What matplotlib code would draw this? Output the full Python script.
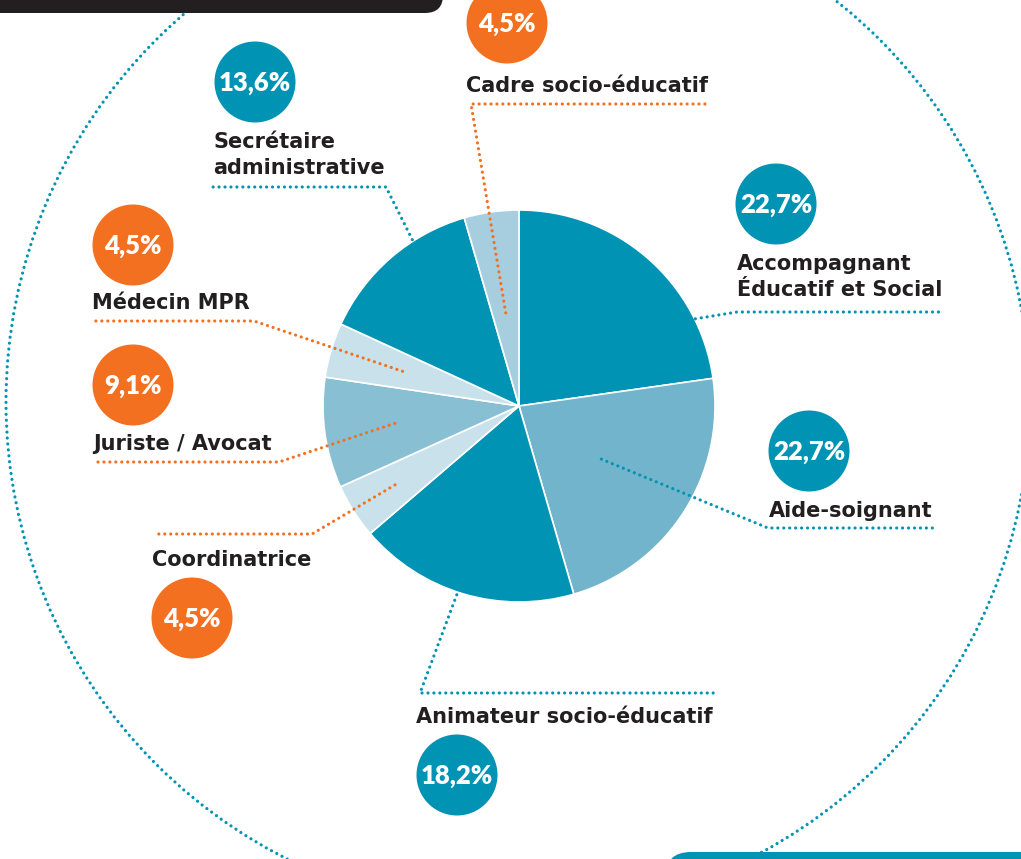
import numpy as np
import matplotlib
matplotlib.use("Agg")
import matplotlib.pyplot as plt
from matplotlib.patches import Circle, FancyBboxPatch

# ---- data ----
jobs = ["Accompagnant\nÉducatif et Social", "Aide-soignant", "Animateur socio-éducatif",
        "Coordinatrice", "Juriste / Avocat", "Médecin MPR",
        "Secrétaire\nadministrative", "Cadre socio-éducatif"]
shares = [22.7, 22.7, 18.2, 4.5, 9.1, 4.5, 13.6, 4.5]
share_labels = ["22,7%", "22,7%", "18,2%", "4,5%", "9,1%", "4,5%", "13,6%", "4,5%"]

# ---- styles / layout (pixels, y down) ----
TEAL = "#0093B4"
ORANGE = "#F37021"
DARK = "#231F20"
wedge_colors = [TEAL, "#72B4CC", TEAL, "#C8E1EB", "#88BFD3", "#C8E1EB", TEAL, "#A7CEDF"]
bubble_colors = [TEAL, TEAL, TEAL, ORANGE, ORANGE, ORANGE, TEAL, ORANGE]
bubble_xy = [(776, 204), (809, 451), (457, 775), (192, 618), (133, 385), (133, 245), (255, 82), (507, 23)]
text_xy = [(737, 270), (769, 517), (416, 723), (152, 566), (93, 450), (92, 309), (213, 148), (466, 92)]
elbow = [(737, 312), (768, 528), (420, 693), (312, 534), (279, 462), (254, 321), (386, 187), (471, 104)]
line_end = [943, 935, 718, 155, 93, 93, 213, 710]
anchor_frac = [0.46, 0.5, 0.59, 0.75, 0.64, 0.62, 0.44, 0.48]

cx, cy, R = 519, 406, 196
dots = (0, (0.01, 1.85))

fig = plt.figure(figsize=(10.21, 8.59), dpi=100)
ax = fig.add_axes([0, 0, 1, 1])

# y axis is inverted, so start at 270 and go counterclockwise in data
# to get top-start, clockwise on screen
wedges, _ = ax.pie(shares, colors=wedge_colors, startangle=270, counterclock=True,
                   center=(cx, cy), radius=R,
                   wedgeprops=dict(edgecolor="white", linewidth=1.2))
ax.set_xlim(0, 1021)
ax.set_ylim(859, 0)
ax.axis("off")

# big dotted ring + corner boxes
ax.add_patch(Circle((518, 402), 512, fill=False, edgecolor=TEAL, lw=2.3,
                    linestyle=dots, capstyle="round", zorder=0))
ax.add_patch(FancyBboxPatch((-40, -80), 483, 93, boxstyle="round,pad=0,rounding_size=18",
                            facecolor=DARK, edgecolor="none", zorder=3))
ax.add_patch(FancyBboxPatch((665, 852), 500, 120, boxstyle="round,pad=0,rounding_size=26",
                            facecolor=TEAL, edgecolor="none", zorder=3))

for i, w in enumerate(wedges):
    mid = np.deg2rad((w.theta1 + w.theta2) / 2)
    ax_x = cx + anchor_frac[i] * R * np.cos(mid)
    ax_y = cy + anchor_frac[i] * R * np.sin(mid)
    lc = bubble_colors[i]
    ex, ey = elbow[i]
    ax.plot([ax_x, ex, line_end[i]], [ax_y, ey, ey], color=lc, lw=2.3,
            linestyle=dots, dash_capstyle="round", zorder=4)

    bx, by = bubble_xy[i]
    ax.add_patch(Circle((bx, by), 40.5, facecolor=bubble_colors[i], edgecolor="none", zorder=5))
    ax.text(bx, by + 1, share_labels[i], color="white", fontsize=18.5, fontweight="heavy",
            family="Lato", ha="center", va="center", zorder=6)

    tx, ty = text_xy[i]
    for k, line in enumerate(jobs[i].split("\n")):
        ax.text(tx, ty + 26 * k, line, color=DARK, fontsize=15, fontweight="bold",
                family="DejaVu Sans", ha="left", va="baseline", zorder=6)

fig.savefig("out.png", dpi=100, facecolor="white")
